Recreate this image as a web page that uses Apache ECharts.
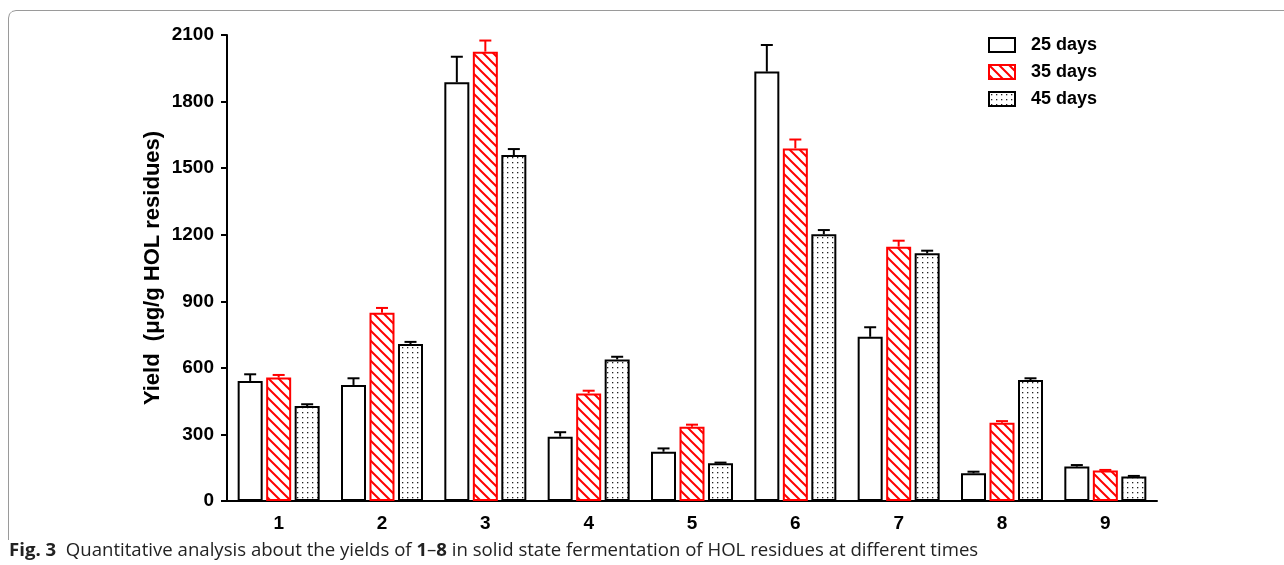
<!DOCTYPE html>
<html>
<head>
<meta charset="utf-8">
<script src="https://cdn.jsdelivr.net/npm/echarts@6/dist/echarts.min.js"></script>
<style>
html,body{margin:0;padding:0;background:#fff;}
#main{width:1284px;height:565px;}
</style>
</head>
<body>
<div id="main"></div>
<script>
const categories = ['1','2','3','4','5','6','7','8','9'];
const seriesNames = ['25 days','35 days','45 days'];
const days25 = [541, 523, 1887, 290, 222, 1935, 740, 125, 155];
const days25Err = [30, 30, 115, 20, 15, 120, 43, 7, 7];
const days35 = [556, 848, 2025, 485, 335, 1589, 1146, 353, 137];
const days35Err = [12, 22, 50, 12, 9, 40, 27, 7, 3];
const days45 = [428, 707, 1559, 638, 170, 1202, 1116, 545, 110];
const days45Err = [8, 10, 27, 12, 3, 19, 12, 8, 3];
const yTicks = {min: 0, max: 2100, interval: 300};

function hatchPattern() {
  const c = document.createElement('canvas');
  c.width = 10; c.height = 10;
  const g = c.getContext('2d');
  g.fillStyle = '#fff'; g.fillRect(0,0,10,10);
  g.strokeStyle = '#ff0000'; g.lineWidth = 2;
  g.beginPath();
  g.moveTo(-2,-2); g.lineTo(12,12);
  g.moveTo(-2,8); g.lineTo(2,12);
  g.moveTo(8,-2); g.lineTo(12,2);
  g.stroke();
  return c;
}
function dotPattern() {
  const c = document.createElement('canvas');
  c.width = 5; c.height = 5;
  const g = c.getContext('2d');
  g.fillStyle = '#fff'; g.fillRect(0,0,5,5);
  g.fillStyle = '#222';
  g.fillRect(2,2,1.3,1.3);
  return c;
}

const chart = echarts.init(document.getElementById('main'), null, {renderer: 'canvas'});
const font = 'Liberation Sans, Arial, sans-serif';
const barW = 25;
const offsets = [-28.5, 0, 28.5];
const errColors = ['#000', '#ff0000', '#000'];
const values = [days25, days35, days45];
const errs = [days25Err, days35Err, days45Err];

function errSeries(k) {
  return {
    type: 'custom',
    z: 5,
    silent: true,
    data: categories.map((c, i) => [i, values[k][i], errs[k][i]]),
    renderItem: function (params, api) {
      const x = api.value(0), v = api.value(1), e = api.value(2);
      const p0 = api.coord([x, v]);
      const p1 = api.coord([x, v + e]);
      const cx = p0[0] + offsets[k];
      const style = {stroke: errColors[k], lineWidth: 2};
      return {
        type: 'group',
        children: [
          {type: 'line', shape: {x1: cx, y1: p0[1], x2: cx, y2: p1[1]}, style: style},
          {type: 'line', shape: {x1: cx - 6, y1: p1[1], x2: cx + 6, y2: p1[1]}, style: style}
        ]
      };
    }
  };
}

const barStyles = [
  {color: '#fff', borderColor: '#000', borderWidth: 2},
  {color: {image: hatchPattern(), repeat: 'repeat'}, borderColor: '#ff0000', borderWidth: 2},
  {color: {image: dotPattern(), repeat: 'repeat'}, borderColor: '#000', borderWidth: 2}
];

const option = {
  animation: false,
  backgroundColor: '#fff',
  grid: {left: 227, right: 127, top: 35, bottom: 64, containLabel: false},
  legend: {
    data: seriesNames,
    orient: 'vertical',
    left: 988, top: 36, padding: 0,
    itemWidth: 26, itemHeight: 14, itemGap: 9,
    icon: 'rect',
    textStyle: {fontFamily: font, fontWeight: 'bold', fontSize: 18, color: '#000', padding: [0,0,0,11]}
  },
  xAxis: {
    type: 'category',
    data: categories,
    axisLine: {lineStyle: {color: '#000', width: 2}},
    axisTick: {alignWithLabel: true, length: 7, lineStyle: {color: '#000', width: 2}},
    axisLabel: {fontFamily: font, fontWeight: 'bold', fontSize: 19, color: '#000', margin: 13}
  },
  yAxis: {
    type: 'value',
    min: yTicks.min, max: yTicks.max, interval: yTicks.interval,
    name: 'Yield  (\u03bcg/g HOL residues)',
    nameLocation: 'middle',
    nameGap: 63,
    nameMoveOverlap: false,
    nameTextStyle: {fontFamily: font, fontWeight: 'bold', fontSize: 22, color: '#000'},
    axisLine: {show: true, lineStyle: {color: '#000', width: 2}},
    axisTick: {show: true, length: 6, lineStyle: {color: '#000', width: 2}},
    axisLabel: {fontFamily: font, fontWeight: 'bold', fontSize: 19, color: '#000', margin: 13,
                formatter: function (v) { return String(v); }},
    splitLine: {show: false}
  },
  series: [
    ...seriesNames.map((n, k) => ({
      name: n, type: 'bar', data: values[k], barWidth: barW, barGap: '14%',
      itemStyle: barStyles[k], z: 3
    })),
    errSeries(0), errSeries(1), errSeries(2)
  ],
  graphic: [
    {type: 'polyline', silent: true,
     shape: {points: [[8.5, 540], [8.5, 18], [9.5, 14], [12, 11.5], [16, 10.5], [1284, 10.5]]},
     style: {fill: null, stroke: '#9a9a9a', lineWidth: 1}},
    {type: 'text', left: 9, top: 541, silent: true,
     style: {
       text: '{b|Fig. 3}  Quantitative analysis about the yields of {b|1}\u2013{b|8} in solid state fermentation of HOL residues at different times',
       fontFamily: 'Open Sans, sans-serif', fontSize: 18.6, fill: '#222',
       rich: {b: {fontFamily: 'Open Sans, sans-serif', fontWeight: 'bold', fontSize: 18.6, fill: '#222'}}
     }}
  ]
};
chart.setOption(option);
</script>
</body>
</html>
